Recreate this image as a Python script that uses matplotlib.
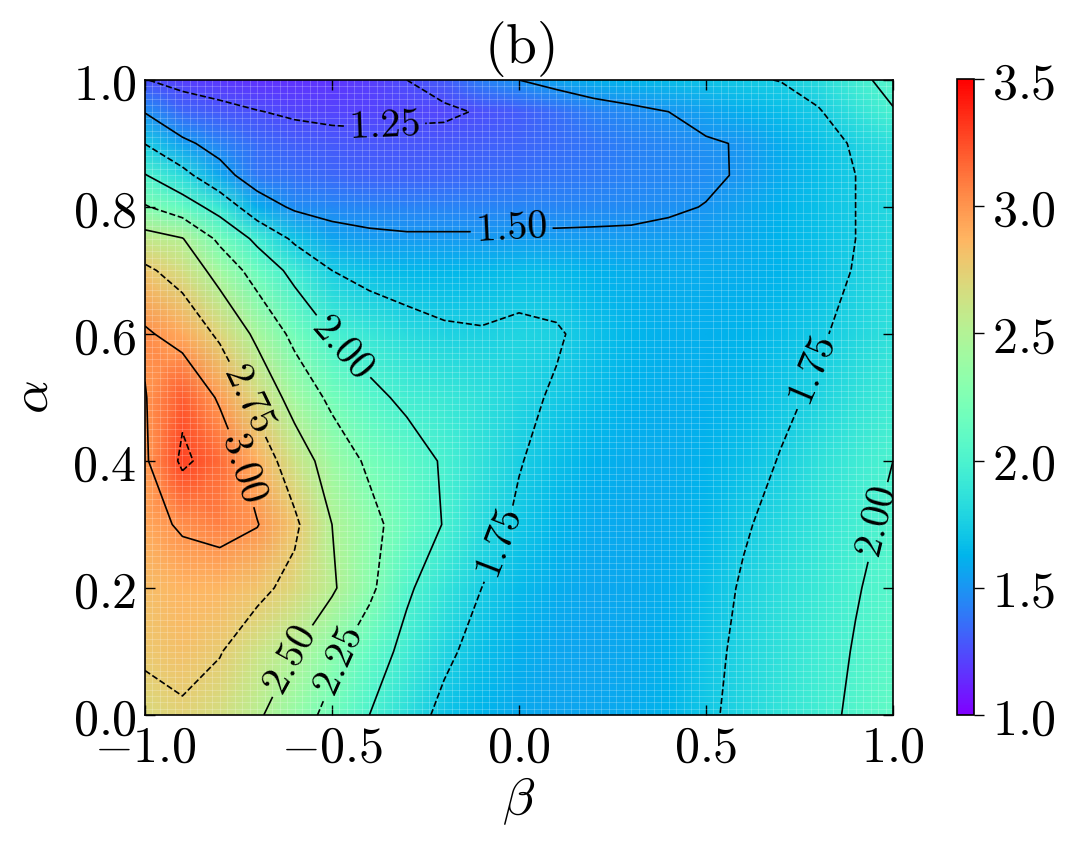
import numpy as np
import matplotlib
matplotlib.use("Agg")
import matplotlib.pyplot as plt
from matplotlib.ticker import FuncFormatter

plt.rcParams['mathtext.fontset'] = 'cm'
plt.rcParams['font.family'] = 'serif'
plt.rcParams['font.serif'] = ['DejaVu Serif']

# grid coordinates
beta = np.round(np.linspace(-1.0, 1.0, 21), 2)
alpha = np.array([0.0, 0.1, 0.2, 0.3, 0.4, 0.5, 0.6, 0.7, 0.75, 0.8, 0.85, 0.9, 0.95, 1.0])

# values, one row per alpha value (beta from -1 to 1)
row_a000 = [2.68, 2.72, 2.66, 2.53, 2.36, 2.18, 2.00, 1.84, 1.70, 1.63, 1.58, 1.56, 1.57, 1.59, 1.63, 1.72, 1.80, 1.88, 1.95, 2.03, 2.10]
row_a010 = [2.78, 2.82, 2.76, 2.63, 2.50, 2.31, 2.11, 1.94, 1.79, 1.68, 1.61, 1.57, 1.56, 1.58, 1.62, 1.70, 1.79, 1.86, 1.94, 2.01, 2.08]
row_a020 = [2.83, 2.87, 2.86, 2.80, 2.69, 2.53, 2.30, 2.03, 1.88, 1.75, 1.66, 1.60, 1.57, 1.58, 1.61, 1.67, 1.77, 1.84, 1.91, 1.99, 2.05]
row_a030 = [2.92, 3.03, 3.08, 3.01, 2.79, 2.50, 2.32, 2.14, 1.99, 1.83, 1.72, 1.64, 1.59, 1.58, 1.60, 1.64, 1.73, 1.81, 1.88, 1.96, 2.03]
row_a040 = [2.97, 3.29, 3.15, 2.885, 2.63, 2.39, 2.21, 2.09, 1.98, 1.86, 1.76, 1.68, 1.62, 1.59, 1.59, 1.62, 1.68, 1.76, 1.85, 1.93, 2.00]
row_a050 = [2.99, 3.20, 2.97, 2.68, 2.41, 2.20, 2.05, 1.96, 1.91, 1.85, 1.79, 1.73, 1.67, 1.62, 1.60, 1.61, 1.65, 1.71, 1.78, 1.86, 1.93]
row_a060 = [3.03, 2.915, 2.71, 2.45, 2.19, 1.995, 1.90, 1.83, 1.78, 1.765, 1.79, 1.77, 1.69, 1.64, 1.61, 1.61, 1.63, 1.67, 1.73, 1.80, 1.86]
row_a070 = [2.79, 2.66, 2.41, 2.15, 1.935, 1.75, 1.68, 1.65, 1.64, 1.65, 1.67, 1.66, 1.62, 1.60, 1.59, 1.59, 1.60, 1.63, 1.68, 1.76, 1.83]
row_a075 = [2.59, 2.51, 2.20, 1.95, 1.71, 1.56, 1.53, 1.52, 1.52, 1.52, 1.53, 1.53, 1.53, 1.53, 1.54, 1.55, 1.58, 1.63, 1.68, 1.75, 1.82]
row_a080 = [2.27, 2.117, 1.912, 1.60, 1.47, 1.45, 1.44, 1.43, 1.43, 1.43, 1.44, 1.44, 1.45, 1.46, 1.48, 1.505, 1.56, 1.62, 1.68, 1.75, 1.81]
row_a085 = [2.01, 1.824, 1.57, 1.40, 1.37, 1.34, 1.32, 1.32, 1.33, 1.35, 1.37, 1.39, 1.41, 1.43, 1.45, 1.475, 1.515, 1.59, 1.67, 1.75, 1.82]
row_a090 = [1.745, 1.54, 1.43, 1.35, 1.31, 1.29, 1.28, 1.28, 1.29, 1.31, 1.33, 1.36, 1.39, 1.42, 1.45, 1.485, 1.51, 1.60, 1.68, 1.77, 1.85]
row_a095 = [1.49, 1.34, 1.29, 1.255, 1.23, 1.22, 1.22, 1.23, 1.23, 1.26, 1.30, 1.36, 1.42, 1.46, 1.50, 1.55, 1.61, 1.67, 1.735, 1.86, 1.99]
row_a100 = [1.255, 1.20, 1.18, 1.16, 1.16, 1.17, 1.20, 1.25, 1.30, 1.42, 1.50, 1.56, 1.61, 1.64, 1.67, 1.70, 1.73, 1.755, 1.83, 1.96, 2.05]

Z = np.array([row_a000, row_a010, row_a020, row_a030, row_a040, row_a050, row_a060,
              row_a070, row_a075, row_a080, row_a085, row_a090, row_a095, row_a100])

levels = [1.25, 1.5, 1.75, 2.0, 2.25, 2.5, 2.75, 3.0, 3.25]
cbar_ticks = [1.0, 1.5, 2.0, 2.5, 3.0, 3.5]
xticks = [-1.0, -0.5, 0.0, 0.5, 1.0]
yticks = [0.0, 0.2, 0.4, 0.6, 0.8, 1.0]

W, H = 1068, 843
fig = plt.figure(figsize=(W / 100, H / 100), dpi=100)
ax = fig.add_axes([145 / W, (H - 715) / H, 748 / W, 635 / H])
cax = fig.add_axes([957 / W, (H - 715) / H, 17 / W, 636 / H])

B, A = np.meshgrid(beta, alpha)
mesh = ax.pcolormesh(B, A, Z, shading='gouraud', cmap='rainbow', vmin=1.0, vmax=3.5, zorder=0.5)

styles = ['dashed' if i % 2 == 0 else 'solid' for i in range(len(levels))]
cs = ax.contour(B, A, Z, levels=levels, colors='k', linestyles=styles, linewidths=1.2, zorder=2)

label_pos = [(-0.36, 0.93), (-0.02, 0.767), (-0.48, 0.575), (-0.706, 0.504), (-0.76, 0.386),
             (-0.612, 0.087), (-0.492, 0.087), (-0.078, 0.276), (0.778, 0.543), (0.939, 0.307)]
ax.clabel(cs, fmt=lambda v: r'$%.2f$' % v, fontsize=29, inline=True, manual=label_pos)

# faint cell grid of the original mesh
ax.set_xticks(np.linspace(-1, 1, 101), minor=True)
ax.set_yticks(np.linspace(0, 1, 101), minor=True)
ax.grid(which='minor', color='white', alpha=0.25, linewidth=0.6)
ax.set_axisbelow('line')
ax.tick_params(which='minor', length=0)

ax.set_xlim(-1, 1)
ax.set_ylim(0, 1)
ax.set_xticks(xticks)
ax.set_yticks(yticks)
fmt = FuncFormatter(lambda v, p: r'$%.1f$' % v)
ax.xaxis.set_major_formatter(fmt)
ax.yaxis.set_major_formatter(fmt)
ax.tick_params(which='major', direction='in', top=True, right=True, length=7, width=1,
               labelsize=36, pad=6)
for s in ax.spines.values():
    s.set_linewidth(1.2)

ax.set_xlabel(r'$\beta$', fontsize=38, labelpad=2)
ax.set_ylabel(r'$\alpha$', fontsize=38, labelpad=10)
ax.set_title(r'$\mathrm{(b)}$', fontsize=40, pad=12)

cb = fig.colorbar(mesh, cax=cax, ticks=cbar_ticks)
cb.ax.yaxis.set_major_formatter(fmt)
cb.ax.tick_params(labelsize=36, length=7, width=1, pad=6)
cb.outline.set_linewidth(1.2)

fig.savefig('out.png', dpi=100)
